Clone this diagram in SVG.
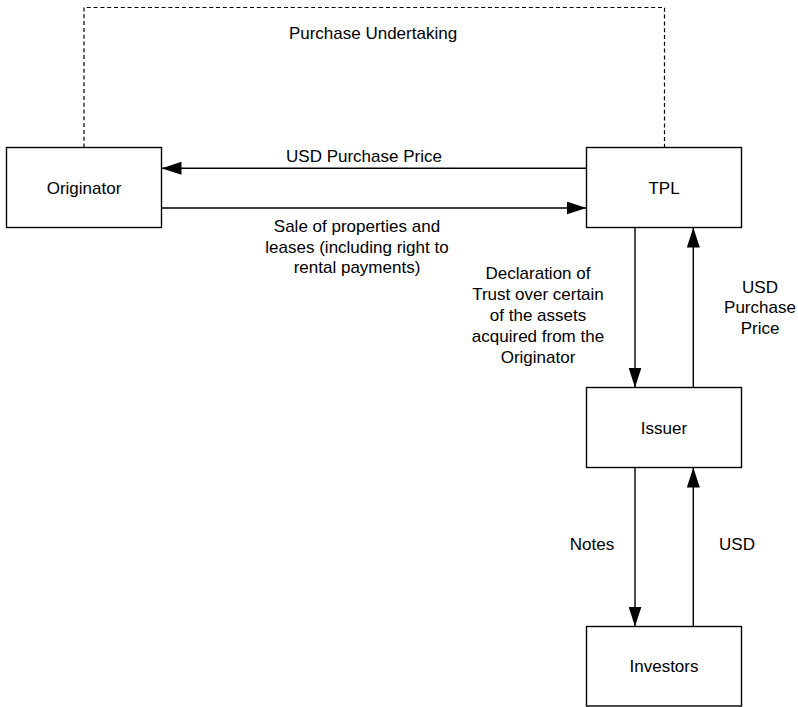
<svg xmlns="http://www.w3.org/2000/svg" width="798" height="707" viewBox="0 0 798 707">
  <defs>
    <marker id="arrow" markerUnits="userSpaceOnUse" markerWidth="20" markerHeight="13" refX="20" refY="6.5" orient="auto">
      <path d="M0,0 L20,6.5 L0,13 Z" fill="#000"/>
    </marker>
    <style>
      .box { fill: #fff; stroke: #000; stroke-width: 1.4; }
      .conn { fill: none; stroke: #000; stroke-width: 1.4; }
      .dash { fill: none; stroke: #000; stroke-width: 1.2; stroke-dasharray: 4 2.8; }
      text { font-family: "Liberation Sans", Arial, sans-serif; font-size: 17px; fill: #000; text-anchor: middle; }
    </style>
  </defs>
  <rect width="798" height="707" fill="#fff"/>

  <g id="connectors">
    <path id="purchase-undertaking" class="dash" d="M84,147.5 V7.5 H664.5 V147.5"/>
    <line id="tpl-originator" class="conn" x1="586.5" y1="168.3" x2="161.5" y2="168.3" marker-end="url(#arrow)"/>
    <line id="originator-tpl" class="conn" x1="161.5" y1="208" x2="586.5" y2="208" marker-end="url(#arrow)"/>
    <line id="tpl-issuer" class="conn" x1="635" y1="227.5" x2="635" y2="387.5" marker-end="url(#arrow)"/>
    <line id="issuer-tpl" class="conn" x1="693.3" y1="387.5" x2="693.3" y2="227.5" marker-end="url(#arrow)"/>
    <line id="issuer-investors" class="conn" x1="635" y1="467.5" x2="635" y2="626.5" marker-end="url(#arrow)"/>
    <line id="investors-issuer" class="conn" x1="693.3" y1="626.5" x2="693.3" y2="467.5" marker-end="url(#arrow)"/>

    <text x="373" y="38.5">Purchase Undertaking</text>
    <text x="364" y="161.5">USD Purchase Price</text>
    <text x="357" y="232">Sale of properties and</text>
    <text x="357" y="252.5">leases (including right to</text>
    <text x="357" y="273">rental payments)</text>
    <text x="538" y="278.5">Declaration of</text>
    <text x="538" y="299.5">Trust over certain</text>
    <text x="538" y="320.5">of the assets</text>
    <text x="538" y="341.5">acquired from the</text>
    <text x="538" y="362.5">Originator</text>
    <text x="760" y="292.5">USD</text>
    <text x="760" y="313">Purchase</text>
    <text x="760" y="333.5">Price</text>
    <text x="592" y="550">Notes</text>
    <text x="737" y="550">USD</text>
  </g>

  <g id="originator">
    <rect class="box" x="6.5" y="147.5" width="155" height="80"/>
    <text x="84" y="193.5">Originator</text>
  </g>
  <g id="tpl">
    <rect class="box" x="586.5" y="147.5" width="155" height="80"/>
    <text x="664" y="193.5">TPL</text>
  </g>
  <g id="issuer">
    <rect class="box" x="586.5" y="387.5" width="155" height="80"/>
    <text x="664" y="433.5">Issuer</text>
  </g>
  <g id="investors">
    <rect class="box" x="586.5" y="626.5" width="155" height="79.5"/>
    <text x="664" y="672">Investors</text>
  </g>
</svg>
